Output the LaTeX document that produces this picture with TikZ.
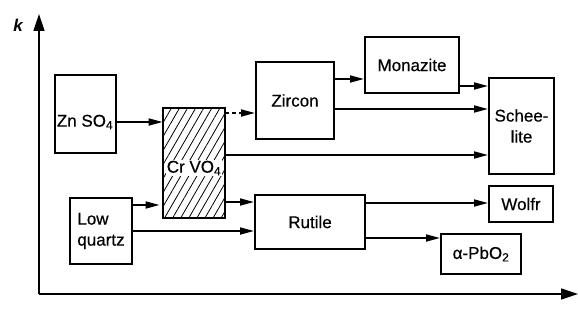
\documentclass[tikz,border=0pt]{standalone}
\usepackage{fontspec}
\setmainfont{Liberation Sans}
\newfontfamily\boxfont{Liberation Sans}[BoldFont=Liberation Sans, BoldFeatures={FakeBold=0.5}]
\usepackage{tikz}
\usetikzlibrary{arrows.meta, patterns.meta}

\begin{document}
\begin{tikzpicture}[
  x=1pt, y=-1pt,
  box/.style={rectangle, draw=black, line width=2pt, inner sep=0pt, align=center, font=\fontsize{17}{21}\boxfont\bfseries},
  lbl/.style={inner sep=0.5pt, align=center, font=\fontsize{17}{21}\boxfont\bfseries},
  arrow/.style={-{Triangle[length=14pt,width=7pt]}, line width=1.7pt},
  axis/.style={-{Triangle[length=17pt,width=11pt]}, line width=1.6pt}
]
\useasboundingbox (0,0) rectangle (578,321);

% Axes
\coordinate (origin) at (39,294);
\coordinate (ytop) at (39,14);
\coordinate (xend) at (578,294);
\draw[axis] (origin) -- (ytop);
\draw[axis] (origin) -- (xend);
\node[lbl, font=\fontsize{17}{21}\selectfont\bfseries\itshape] (klabel) at (18,25) {k};

% Nodes
\node[box, minimum width=61pt, minimum height=78pt] (zn) at (85,114) {};
\node[lbl] (znlabel) at (85,122) {Zn SO\textsubscript{4}};
\node[box, minimum width=62pt, minimum height=110pt, pattern={Lines[angle=60,distance=7pt,line width=0.8pt]}] (cr) at (194,163) {};
\node[lbl, fill=white] (crlabel) at (194,168) {Cr VO\textsubscript{4}};
\node[box, minimum width=78pt, minimum height=77pt] (zircon) at (295,100.5) {Zircon};
\node[box, minimum width=94pt, minimum height=56pt] (monazite) at (412,65) {Monazite};
\node[box, minimum width=65pt, minimum height=96pt] (scheelite) at (521.5,126) {Schee-\\lite};
\node[box, minimum width=64pt, minimum height=36pt] (wolfr) at (521,204) {Wolfr};
\node[box, minimum width=80pt, minimum height=40pt] (pbo) at (481,254) {α-PbO\textsubscript{2}};
\node[box, minimum width=110pt, minimum height=54pt] (rutile) at (310,222) {Rutile};
\node[box, minimum width=62pt, minimum height=66pt, align=left] (lowq) at (101,231) {Low\\quartz};

% Arrows
\draw[arrow] (zn.east |- 0,122) -- (cr.west |- 0,122);
\draw[arrow, dash pattern=on 4pt off 3pt] (cr.east |- 0,113) -- (zircon.west |- 0,113);
\draw[arrow] (cr.east |- 0,155) -- (scheelite.west |- 0,155);
\draw[arrow] (zircon.east |- 0,79) -- (monazite.west |- 0,79);
\draw[arrow] (zircon.east |- 0,109) -- (scheelite.west |- 0,109);
\draw[arrow] (monazite.east |- 0,86) -- (scheelite.west |- 0,86);
\draw[arrow] (lowq.east |- 0,205) -- ([xshift=-3pt]cr.west |- 0,205);
\draw[arrow] (cr.east |- 0,202) -- (rutile.west |- 0,202);
\draw[arrow] (lowq.east |- 0,231) -- (rutile.west |- 0,231);
\draw[arrow] (rutile.east |- 0,203) -- (wolfr.west |- 0,203);
\draw[arrow] (rutile.east |- 0,238) -- (pbo.west |- 0,238);

\end{tikzpicture}
\end{document}
